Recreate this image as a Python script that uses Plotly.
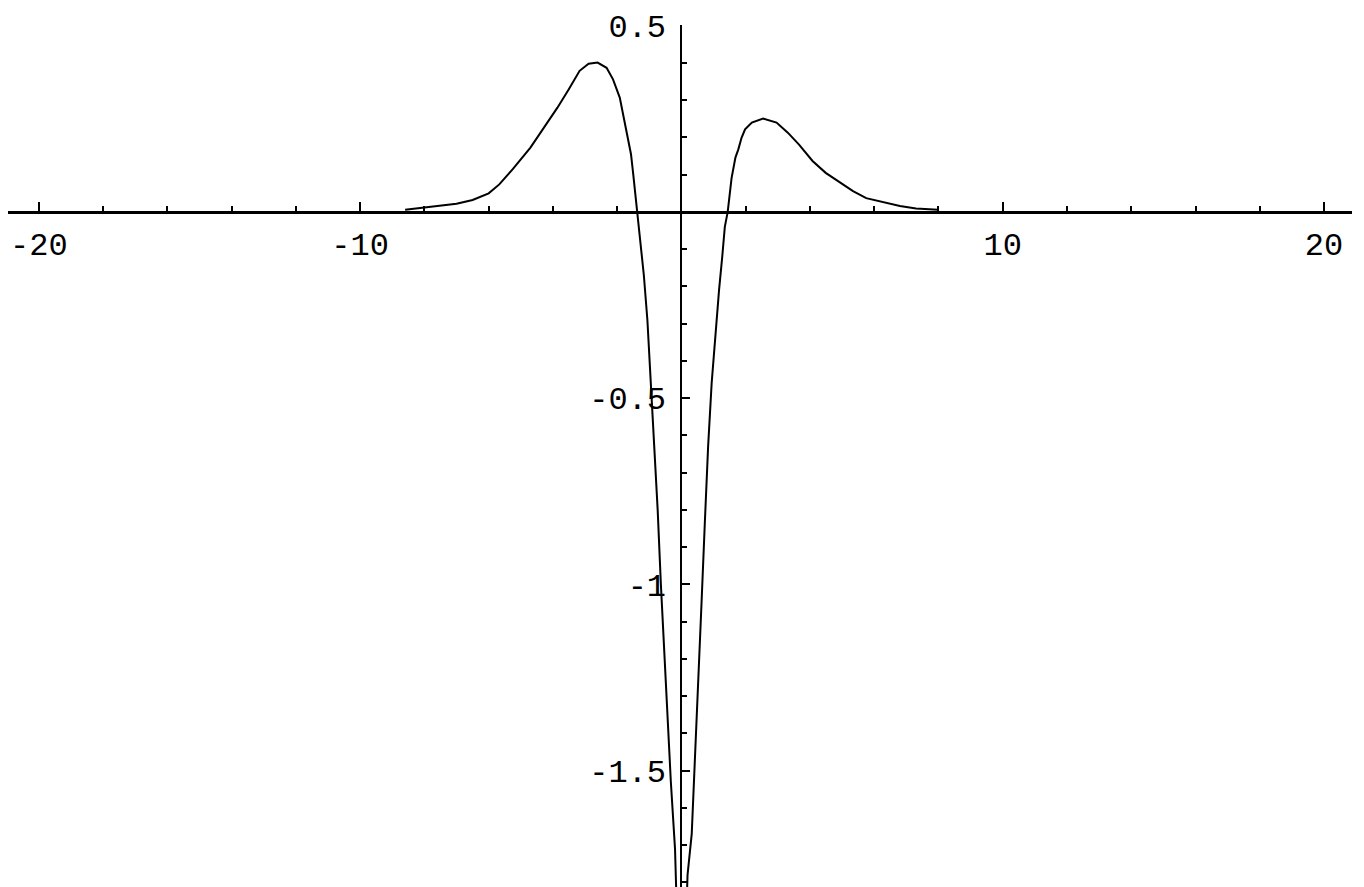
import plotly.graph_objects as go

# curve: left branch (from the far left down to the bottom edge)
x_left = [-8.6, -7.8, -7.0, -6.5, -6.0, -5.67, -5.25, -4.7, -4.28,
          -3.86, -3.51, -3.17, -2.89, -2.61, -2.33, -2.13, -1.92, -1.71, -1.57,
          -1.5, -1.38, -1.29, -1.17, -1.06, -0.96, -0.86, -0.74, -0.64, -0.535,
          -0.43, -0.33, -0.2, -0.15]
y_left = [0.006, 0.014, 0.022, 0.032, 0.05, 0.074, 0.115, 0.173, 0.226,
          0.28, 0.329, 0.379, 0.398, 0.401, 0.387, 0.356, 0.307, 0.217, 0.155,
          0.101, 0.0, -0.07, -0.17, -0.29, -0.44, -0.615, -0.8, -1.0, -1.18,
          -1.36, -1.53, -1.71, -1.86]

# right branch (from the bottom edge up and out to the right)
x_right = [0.16, 0.19, 0.32, 0.42, 0.52, 0.63, 0.73, 0.83, 0.94, 1.06, 1.17, 1.27,
           1.35, 1.44, 1.49, 1.56, 1.68, 1.77, 1.87, 1.98, 2.19, 2.54, 2.96, 3.31,
           3.66, 4.08, 4.49, 4.92, 5.34, 5.75, 6.31, 6.8, 7.3, 7.99]
y_right = [-1.86, -1.78, -1.67, -1.48, -1.26, -1.04, -0.83, -0.63, -0.46, -0.32, -0.21, -0.12,
           -0.04, 0.0, 0.047, 0.091, 0.146, 0.168, 0.199, 0.222, 0.24, 0.251, 0.24, 0.213,
           0.181, 0.137, 0.105, 0.079, 0.056, 0.037, 0.026, 0.016, 0.009, 0.006]

x_ticks = [-20, -10, 10, 20]
x_ticklabels = ['-20', '-10', '10', '20']
y_ticks = [-1.5, -1, -0.5, 0.5]
y_ticklabels = ['-1.5', '-1', '-0.5', '0.5']

x_range = [-20.96, 20.87]
y_range = [-1.834, 0.502]

fig = go.Figure()
fig.add_trace(go.Scatter(x=x_left, y=y_left, mode='lines',
                         line=dict(color='black', width=2)))
fig.add_trace(go.Scatter(x=x_right, y=y_right, mode='lines',
                         line=dict(color='black', width=2)))

tick_font = dict(family='Liberation Mono', size=32, color='black')

fig.update_layout(
    width=1364, height=887,
    margin=dict(l=0, r=20, t=17, b=0),
    plot_bgcolor='white', paper_bgcolor='white',
    showlegend=False,
    xaxis=dict(range=x_range, showgrid=False, zeroline=False,
               showline=True, linecolor='black', linewidth=3,
               anchor='free', position=(0 - y_range[0]) / (y_range[1] - y_range[0]),
               ticks='inside', ticklen=9, tickwidth=2, tickcolor='black',
               tickvals=x_ticks, ticktext=x_ticklabels, tickfont=tick_font,
               ticklabelstandoff=3, automargin=False,
               minor=dict(dtick=2, tick0=0, ticks='inside', ticklen=5,
                          tickwidth=2, tickcolor='black', showgrid=False)),
    yaxis=dict(range=y_range, showgrid=False, zeroline=False,
               showline=True, linecolor='black', linewidth=2,
               anchor='free', position=(0 - x_range[0]) / (x_range[1] - x_range[0]),
               ticks='inside', ticklen=8, tickwidth=2, tickcolor='black',
               tickvals=y_ticks, ticktext=y_ticklabels, tickfont=tick_font,
               ticklabelstandoff=8, automargin=False,
               minor=dict(dtick=0.1, tick0=0, ticks='inside', ticklen=5,
                          tickwidth=2, tickcolor='black', showgrid=False)),
)

fig.write_html("out.html")
